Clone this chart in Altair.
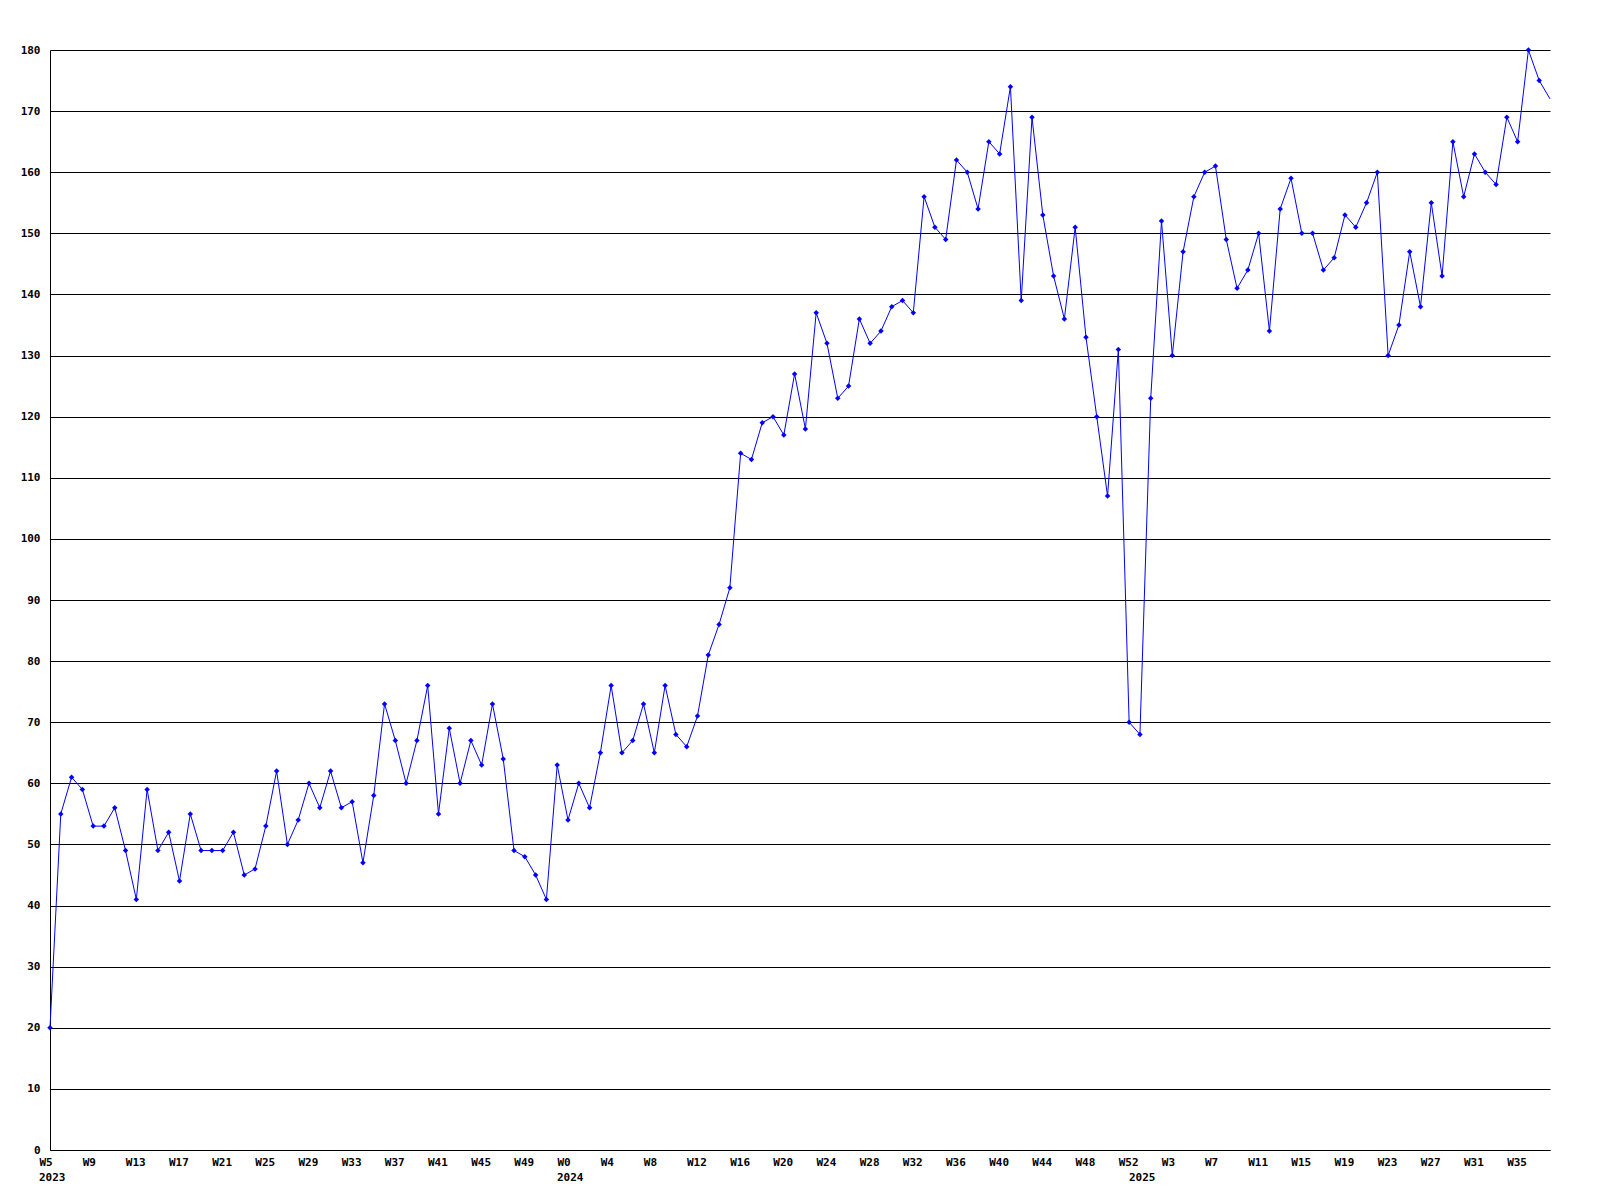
import altair as alt
import pandas as pd

# weekly values, from W5 2023 to W38 2025
values = [
    20, 55, 61, 59, 53, 53, 56, 49, 41, 59, 49, 52, 44, 55, 49, 49, 49, 52, 45, 46,
    53, 62, 50, 54, 60, 56, 62, 56, 57, 47, 58, 73, 67, 60, 67, 76, 55, 69, 60, 67,
    63, 73, 64, 49, 48, 45, 41, 63,
    54, 60, 56, 65, 76, 65, 67, 73, 65, 76, 68, 66, 71, 81, 86, 92, 114, 113, 119, 120,
    117, 127, 118, 137, 132, 123, 125, 136, 132, 134, 138, 139, 137, 156, 151, 149, 162, 160,
    154, 165, 163, 174, 139, 169, 153, 143, 136, 151, 133, 120, 107, 131, 70,
    68, 123, 152, 130, 147, 156, 160, 161, 149, 141, 144, 150, 134, 154, 159, 150, 150, 144,
    146, 153, 151, 155, 160, 130, 135, 147, 138, 155, 143, 165, 156, 163, 160, 158, 169, 165,
    180, 175, 172,
]

tick_labels = [
    "W5", "W9", "W13", "W17", "W21", "W25", "W29", "W33", "W37", "W41", "W45", "W49",
    "W0", "W4", "W8", "W12", "W16", "W20", "W24", "W28", "W32", "W36", "W40", "W44", "W48", "W52",
    "W3", "W7", "W11", "W15", "W19", "W23", "W27", "W31", "W35",
]
year_labels = ["2023", "2024", "2025"]
year_start = [0, 48, 101]

y_ticks = [0, 10, 20, 30, 40, 50, 60, 70, 80, 90, 100, 110, 120, 130, 140, 150, 160, 170, 180]

n = len(values)
df = pd.DataFrame({"i": list(range(n)), "v": values})
ydf = pd.DataFrame({"i": year_start, "label": year_labels})

FONT = "DejaVu Sans Mono"
label_arr = "[" + ",".join("'%s'" % t for t in tick_labels) + "]"

x_enc = alt.X(
    "i:Q",
    scale=alt.Scale(domain=[0, n - 1], nice=False, zero=False),
    axis=alt.Axis(
        values=[k * 4 for k in range(len(tick_labels))],
        labelExpr=label_arr + "[round(datum.value/4)]",
        title=None, grid=False, ticks=False,
        domainColor="black", domainWidth=1,
        labelAlign="left", labelOffset=-11, labelPadding=6,
        labelFont=FONT, labelFontSize=11, labelFontWeight="bold", labelColor="black",
        labelFlush=False, labelOverlap=False,
    ),
)
y_enc = alt.Y(
    "v:Q",
    scale=alt.Scale(domain=[0, 180], nice=False),
    axis=alt.Axis(
        values=y_ticks, title=None, grid=True, gridColor="black", gridOpacity=1, gridWidth=1,
        ticks=False, domainColor="black", domainWidth=1, labelPadding=10,
        labelFont=FONT, labelFontSize=11, labelFontWeight="bold", labelColor="black",
        labelOverlap=False,
    ),
)

line = alt.Chart(df).mark_line(color="#0000ff", strokeWidth=1).encode(x=x_enc, y=y_enc)
pts = (
    alt.Chart(df)
    .transform_filter("datum.i < %d" % (n - 1))
    .mark_point(shape="diamond", filled=True, size=30, color="#0000ff", opacity=1)
    .encode(x=x_enc, y=y_enc)
)
yrs = alt.Chart(ydf).mark_text(
    align="left", baseline="top", dx=-11, font=FONT, fontSize=11, fontWeight="bold", color="black"
).encode(x=x_enc, y=alt.value(1122), text="label:N")

chart = (
    alt.layer(line, pts, yrs)
    .properties(
        width=1500, height=1100,
        autosize=alt.AutoSizeParams(type="none"),
        padding={"left": 42, "top": 42, "right": 20, "bottom": 50},
        background="white",
    )
    .configure_view(stroke=None)
)

chart.save("out.html", embed_options={"renderer": "svg", "actions": False})
